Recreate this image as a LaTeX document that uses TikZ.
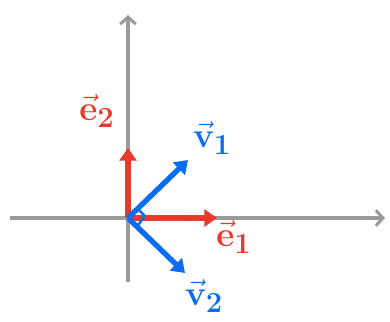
\documentclass[tikz,border=0pt]{standalone}
\usepackage{amsmath}
\usepackage{xcolor}
\usetikzlibrary{arrows.meta,calc}
\definecolor{axisgray}{HTML}{9A9A9A}
\definecolor{penred}{HTML}{E8392A}
\definecolor{penblue}{HTML}{0A6CF0}

\begin{document}
\begin{tikzpicture}[
    x=0.025cm, y=0.025cm,
    axis/.style={axisgray, line width=2.2pt, -{Straight Barb[length=5pt,width=11pt,line width=2.2pt]}},
    basis/.style={penred, line width=4pt, -{Triangle[length=9pt,width=12pt]}},
    rotated/.style={penblue, line width=3.8pt, -{Triangle[length=9pt,width=12pt]}},
    lbl/.style={font=\fontsize{32}{36}\selectfont, inner sep=0pt}
]
    \useasboundingbox (-128,-104) rectangle (262,218);
    % Points
    \coordinate (O) at (0,0);
    \coordinate (xl) at (-118,0);
    \coordinate (xr) at (257,0);
    \coordinate (yb) at (0,-64);
    \coordinate (yt) at (0,203);
    \coordinate (e1) at (89,0);
    \coordinate (e2) at (0,70);
    \coordinate (v1) at (60,58);
    \coordinate (v2) at (57,-55);

    % Labels
    \node[lbl, penred] (le2) at (-31,107) {$\vec{\mathbf{e}}_{\mathbf{2}}$};
    \node[lbl, penred] (le1) at (106,-19) {$\vec{\mathbf{e}}_{\mathbf{1}}$};
    \node[lbl, penblue] (lv1) at (84,80) {$\vec{\mathbf{v}}_{\mathbf{1}}$};
    \node[lbl, penblue] (lv2) at (76,-78) {$\vec{\mathbf{v}}_{\mathbf{2}}$};

    % Axes
    \draw[axis] (xl) -- (xr);
    \draw[axis] (yb) -- (yt);

    % Vectors
    \draw[basis] (O) -- (e1);
    \draw[basis] (O) -- (e2);
    \draw[rotated] (O) -- (v1);
    \draw[rotated] (O) -- (v2);
    \draw[penblue, line width=1.8pt] ($(O)!0.16!(v1)$) -- ++(7,-7) -- ($(O)!0.16!(v2)$);
\end{tikzpicture}
\end{document}
